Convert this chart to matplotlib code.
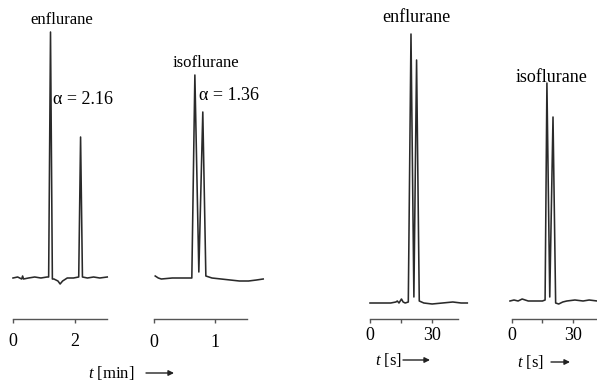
"""Chromatograms of enflurane / isoflurane: conventional (min) vs fast (s) separation"""
import matplotlib.pyplot as plt

# ── data: retention time vs detector signal (arbitrary units) ──
# left pair, time in minutes
enf_min_t = [0.0, 0.15, 0.28, 0.31, 0.34, 0.5, 0.7, 0.9, 1.1, 1.15, 1.21, 1.27, 1.32,
             1.45, 1.52, 1.6, 1.75, 1.95, 2.12, 2.18, 2.24, 2.4, 2.6, 2.8, 3.04]
enf_min_s = [0, 1, -1, 2, -1, 0, 1, 0, 1, 1, 246, -1, -1,
             -3, -6, -3, 0, 0, 1, 141, 1, 0, 1, 0, 1]

iso_min_t = [0.02, 0.07, 0.12, 0.3, 0.5, 0.62, 0.67, 0.735, 0.80, 0.85, 0.95,
             1.1, 1.25, 1.4, 1.55, 1.68, 1.79]
iso_min_s = [2, 0, -1, 0, 0, 0, 203, 6, 166, 2, 0,
             -1, -2, -3, -3, -2, -1]

# right pair, time in seconds
enf_sec_t = [0, 5, 10, 12.5, 13.2, 14, 15.2, 16.0, 17, 18.5, 19.8, 21.2, 22.5,
             23.8, 26, 30, 35, 40, 44, 47]
enf_sec_s = [0, 0, 0, 1, 2, 0, 4, 1, 0, 1, 269, 6, 243,
             2, 0, -1, 0, 1, 0, 0]

iso_sec_t = [-1, 1, 3, 5, 8, 12, 15, 16.3, 17.2, 18.6, 20.2, 21.5, 23, 25,
             27, 31, 35, 38, 42]
iso_sec_s = [0, 1, 0, 2, 0, 0, 0, 1, 218, 4, 184, -2, -3, -1,
             0, 1, 0, 1, 0]

W, H = 597, 384
plt.rcParams.update({
    "font.family": ["Liberation Serif", "DejaVu Serif"],
    "mathtext.fontset": "custom",
    "mathtext.rm": "Liberation Serif",
    "mathtext.it": "Liberation Serif:italic",
})

fig = plt.figure(figsize=(W / 100, H / 100), dpi=100)
fig.patch.set_facecolor("white")


def fx(px):
    return px / W


def fy(py):
    return 1 - py / H


def panel(x0, scale, xlim, baseline, spine_end, t, s, ticks, labels, minor=(), lpad=6):
    """x0: pixel of t=0, scale: px per time unit, baseline: pixel row of zero signal"""
    top, bottom = 20, 319
    left = x0 + xlim[0] * scale
    width = (xlim[1] - xlim[0]) * scale
    ax = fig.add_axes([fx(left), fy(bottom), width / W, (bottom - top) / H])
    ax.plot(t, s, color="#2a2a2a", linewidth=1.15, clip_on=False)
    ax.set_xlim(*xlim)
    ax.set_ylim(-(bottom - baseline), baseline - top)
    for side in ("top", "right", "left"):
        ax.spines[side].set_visible(False)
    ax.spines["bottom"].set_bounds(0, spine_end)
    ax.spines["bottom"].set_color("#555555")
    ax.spines["bottom"].set_linewidth(1.0)
    ax.set_yticks([])
    ax.set_xticks(ticks)
    ax.set_xticklabels(labels)
    ax.set_xticks(list(minor), minor=True)
    ax.tick_params(axis="x", which="both", direction="out", length=3, width=1,
                   color="#555555", labelsize=13, pad=lpad)
    ax.patch.set_alpha(0)
    return ax


panel(13, 31, (-0.03, 3.06), 278, 3.03, enf_min_t, enf_min_s, [0, 2], ["0", "2"], lpad=7)
panel(154, 61, (-0.02, 1.8), 278, 1.52, iso_min_t, iso_min_s, [0, 1], ["0", "1"], lpad=8)
panel(370, 2.07, (-0.5, 47.5), 303, 42.5, enf_sec_t, enf_sec_s, [0, 30], ["0", "30"], minor=[15], lpad=3)
panel(512, 2.03, (-1.2, 42.4), 301, 42.4, iso_sec_t, iso_sec_s, [0, 30], ["0", "30"], minor=[15], lpad=3)

# ── labels ──
fig.text(fx(62), fy(20), "enflurane", ha="center", va="center", fontsize=12)
fig.text(fx(53), fy(100), "α = 2.16", ha="left", va="center", fontsize=13)
fig.text(fx(206), fy(63), "isoflurane", ha="center", va="center", fontsize=12)
fig.text(fx(199), fy(95), "α = 1.36", ha="left", va="center", fontsize=13)
fig.text(fx(416), fy(18), "enflurane", ha="center", va="center", fontsize=13)
fig.text(fx(552), fy(77), "isoflurane", ha="center", va="center", fontsize=13)

# axis titles with arrows
for x_txt, y_txt, txt, a0, a1 in [(88, 373, r"$t$ [min]", 146, 174),
                                  (375, 360, r"$t$ [s]", 403, 430),
                                  (517, 362, r"$t$ [s]", 551, 570)]:
    fig.text(fx(x_txt), fy(y_txt), txt, ha="left", va="center", fontsize=12)
    fig.add_artist(plt.Annotation("", xy=(fx(a1), fy(y_txt)), xytext=(fx(a0), fy(y_txt)),
                                  xycoords="figure fraction",
                                  arrowprops=dict(arrowstyle="-|>", lw=1.0, color="#222222",
                                                  mutation_scale=8, shrinkA=0, shrinkB=0)))

fig.savefig("out.png", dpi=100)
